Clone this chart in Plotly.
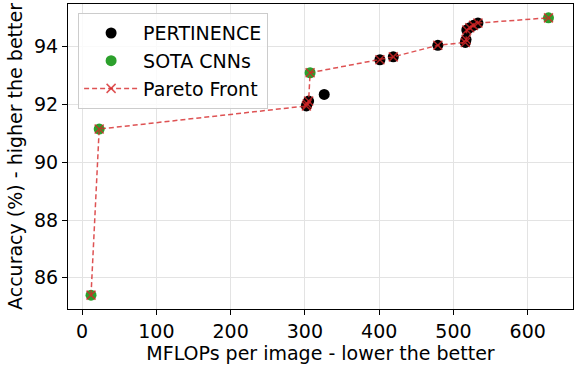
import plotly.graph_objects as go

# PERTINENCE models
pert_x = [302, 303, 305, 326, 401, 419, 479, 516, 517, 518, 522, 527, 533]
pert_y = [91.95, 92.02, 92.12, 92.35, 93.55, 93.65, 94.05, 94.15, 94.25, 94.58, 94.66, 94.74, 94.82]
# SOTA CNNs
sota_x = [12, 23, 307, 628]
sota_y = [85.4, 91.15, 93.1, 95.0]

# Pareto front computed from all points
pts = sorted(zip(pert_x + sota_x, pert_y + sota_y))
par_x, par_y = [], []
best = -1e9
for x, y in pts:
    if y > best:
        par_x.append(x)
        par_y.append(y)
        best = y

FONT = "DejaVu Sans"
FS = 19
fig = go.Figure()
fig.add_trace(go.Scatter(x=pert_x, y=pert_y, mode="markers", name="PERTINENCE",
                         marker=dict(color="black", size=11, line=dict(width=0))))
fig.add_trace(go.Scatter(x=sota_x, y=sota_y, mode="markers", name="SOTA CNNs",
                         marker=dict(color="#2ca02c", size=11, line=dict(width=0))))
fig.add_trace(go.Scatter(x=par_x, y=par_y, mode="lines+markers", name="Pareto Front",
                         line=dict(color="rgba(214,39,40,0.8)", width=1.5, dash="5px,3px"),
                         marker=dict(symbol="x-thin", size=9, color="rgba(214,39,40,0.8)",
                                     line=dict(width=1.5, color="rgba(214,39,40,0.8)"))))

axis_common = dict(showline=True, linecolor="black", linewidth=1.2, mirror=True,
                   ticks="outside", ticklen=5, tickcolor="black", tickwidth=1.2,
                   showgrid=True, gridcolor="#e3e3e3", gridwidth=1, zeroline=False,
                   tickfont=dict(family=FONT, size=FS, color="black"))
fig.update_xaxes(range=[-19, 661], tick0=0, dtick=100,
                 title=dict(text="MFLOPs per image - lower the better",
                            font=dict(family=FONT, size=FS, color="black"), standoff=4),
                 **axis_common)
fig.update_yaxes(range=[84.92, 95.48], tick0=86, dtick=2,
                 title=dict(text="Accuracy (%) - higher the better",
                            font=dict(family=FONT, size=FS, color="black"), standoff=6),
                 **axis_common)
fig.update_layout(width=574, height=372, margin=dict(l=68, r=1, t=4, b=63),
                  plot_bgcolor="white", paper_bgcolor="white",
                  font=dict(family=FONT, size=FS, color="black"),
                  legend=dict(x=0.02, y=0.97, xanchor="left", yanchor="top", itemwidth=54,
                              bgcolor="rgba(255,255,255,0.8)", bordercolor="#cccccc",
                              borderwidth=1, font=dict(family=FONT, size=FS, color="black")))
fig.write_html("out.html")
